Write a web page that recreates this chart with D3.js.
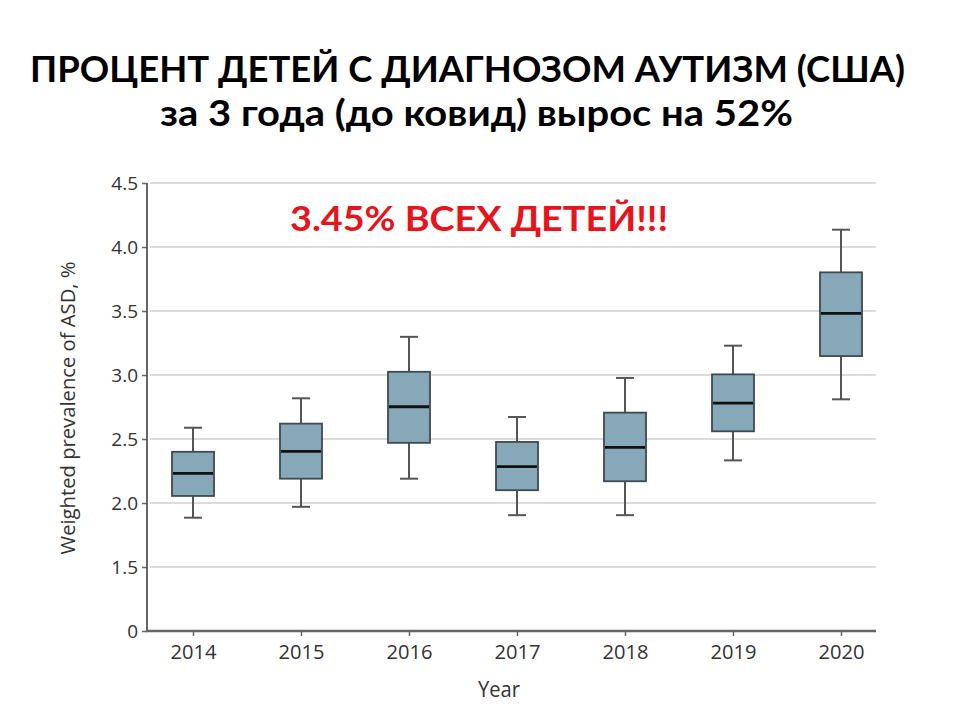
<!DOCTYPE html>
<html><head><meta charset="utf-8">
<script src="https://cdn.jsdelivr.net/npm/d3@7"></script>
<style>body{margin:0;background:#fff}svg{display:block}</style>
</head><body>
<script>
const years = ["2014","2015","2016","2017","2018","2019","2020"];
const whiskerLow  = [1.885, 1.97, 2.19, 1.905, 1.905, 2.333, 2.81];
const q1          = [2.055, 2.19, 2.47, 2.10, 2.17, 2.56, 3.148];
const median      = [2.232, 2.404, 2.752, 2.284, 2.435, 2.781, 3.482];
const q3          = [2.40, 2.62, 3.025, 2.477, 2.706, 3.005, 3.802];
const whiskerHigh = [2.588, 2.818, 3.298, 2.672, 2.977, 3.229, 4.135];
const yTickValues = [1.0, 1.5, 2.0, 2.5, 3.0, 3.5, 4.0, 4.5];
const yTickLabels = ["0", "1.5", "2.0", "2.5", "3.0", "3.5", "4.0", "4.5"];

const W = 960, H = 720;
const svg = d3.select("body").append("svg").attr("width", W).attr("height", H);

const x = d3.scalePoint().domain(years).range([193, 841]);
const y = d3.scaleLinear().domain([1.0, 4.5]).range([631, 183]);

function fit(sel, len){ return sel.attr("textLength", len).attr("lengthAdjust", "spacingAndGlyphs"); }

// title
fit(svg.append("text").attr("x", 467.5).attr("y", 82).attr("text-anchor", "middle")
  .attr("font-family", "Lato, 'Open Sans', sans-serif").attr("font-weight", 700)
  .attr("font-size", 37).attr("fill", "#000")
  .text("ПРОЦЕНТ ДЕТЕЙ С ДИАГНОЗОМ АУТИЗМ (США)"), 875);
fit(svg.append("text").attr("x", 476.5).attr("y", 126).attr("text-anchor", "middle")
  .attr("font-family", "Lato, 'Open Sans', sans-serif").attr("font-weight", 700)
  .attr("font-size", 37).attr("fill", "#000")
  .text("за 3 года (до ковид) вырос на 52%"), 633);

// gridlines
svg.append("g").selectAll("line").data(yTickValues.slice(1)).join("line")
  .attr("x1", 150).attr("x2", 876)
  .attr("y1", d => y(d)).attr("y2", d => y(d))
  .attr("stroke", "#dcdcdc").attr("stroke-width", 2);

// y axis
const yAxis = svg.append("g").attr("transform", "translate(147,0)")
  .call(d3.axisLeft(y).tickValues(yTickValues).tickSize(5).tickPadding(4)
        .tickFormat((d, i) => yTickLabels[i]));
yAxis.select(".domain").attr("stroke", "#666").attr("stroke-width", 2)
  .attr("d", "M0,183V631");
yAxis.selectAll(".tick line").attr("stroke", "#666").attr("stroke-width", 1.5);
yAxis.selectAll(".tick text").attr("font-family", "'Open Sans', sans-serif")
  .attr("font-size", 19).attr("fill", "#333").attr("dy", "0.34em");

// x axis
const xAxis = svg.append("g").attr("transform", "translate(0,631)")
  .call(d3.axisBottom(x).tickSize(5).tickPadding(9));
xAxis.select(".domain").attr("stroke", "#666").attr("stroke-width", 2.5)
  .attr("d", "M146,0H876");
xAxis.selectAll(".tick line").attr("stroke", "#666").attr("stroke-width", 1.5);
fit(xAxis.selectAll(".tick text").attr("font-family", "'Open Sans', sans-serif")
  .attr("font-size", 20).attr("fill", "#333"), 46);

// axis titles
fit(svg.append("text").attr("transform", "translate(75,408) rotate(-90)")
  .attr("text-anchor", "middle").attr("font-family", "'Open Sans', sans-serif")
  .attr("font-size", 20).attr("fill", "#333")
  .text("Weighted prevalence of ASD, %"), 293);
fit(svg.append("text").attr("x", 499).attr("y", 697).attr("text-anchor", "middle")
  .attr("font-family", "'Open Sans', sans-serif").attr("font-size", 22)
  .attr("fill", "#333").text("Year"), 42);

// boxes
const bw = 42, cap = 18;
const data = years.map((yr, i) => ({yr, lo: whiskerLow[i], q1: q1[i], med: median[i], q3: q3[i], hi: whiskerHigh[i]}));
const g = svg.append("g").selectAll("g").data(data).join("g");
g.append("line").attr("x1", d => x(d.yr)).attr("x2", d => x(d.yr))
  .attr("y1", d => y(d.hi)).attr("y2", d => y(d.q3)).attr("stroke", "#555").attr("stroke-width", 2);
g.append("line").attr("x1", d => x(d.yr)).attr("x2", d => x(d.yr))
  .attr("y1", d => y(d.q1)).attr("y2", d => y(d.lo)).attr("stroke", "#555").attr("stroke-width", 2);
g.append("line").attr("x1", d => x(d.yr) - cap/2).attr("x2", d => x(d.yr) + cap/2)
  .attr("y1", d => y(d.hi)).attr("y2", d => y(d.hi)).attr("stroke", "#555").attr("stroke-width", 2);
g.append("line").attr("x1", d => x(d.yr) - cap/2).attr("x2", d => x(d.yr) + cap/2)
  .attr("y1", d => y(d.lo)).attr("y2", d => y(d.lo)).attr("stroke", "#555").attr("stroke-width", 2);
g.append("rect").attr("x", d => x(d.yr) - bw/2).attr("width", bw)
  .attr("y", d => y(d.q3)).attr("height", d => y(d.q1) - y(d.q3))
  .attr("fill", "#86a8b9").attr("stroke", "#3f4a50").attr("stroke-width", 1.8);
g.append("line").attr("x1", d => x(d.yr) - bw/2 + 1).attr("x2", d => x(d.yr) + bw/2 - 1)
  .attr("y1", d => y(d.med)).attr("y2", d => y(d.med)).attr("stroke", "#111").attr("stroke-width", 2.8);

// red annotation
fit(svg.append("text").attr("x", 479).attr("y", 231).attr("text-anchor", "middle")
  .attr("font-family", "Lato, 'Open Sans', sans-serif").attr("font-weight", 700)
  .attr("font-size", 35).attr("fill", "#e8141c")
  .text("3.45% ВСЕХ ДЕТЕЙ!!!"), 378);
</script>
</body></html>
